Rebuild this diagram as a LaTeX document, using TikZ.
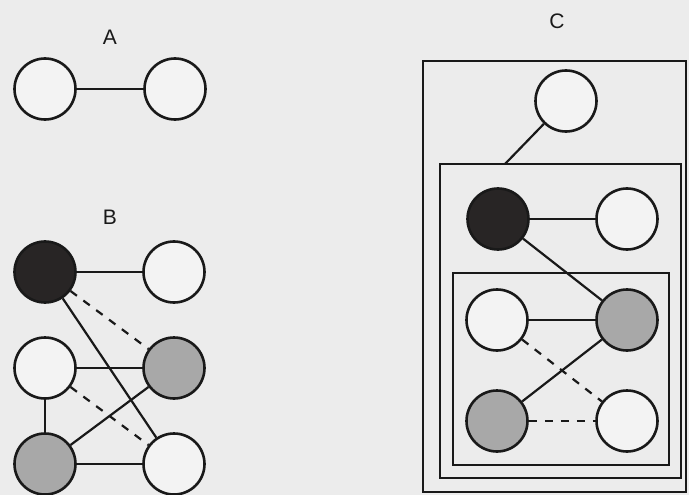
\documentclass[tikz,border=0pt]{standalone}
\usepackage{fontspec}
\setmainfont{Liberation Sans}
\definecolor{bgc}{RGB}{236,236,236}
\definecolor{wfill}{RGB}{243,243,243}
\definecolor{gfill}{RGB}{168,168,168}
\definecolor{bfill}{RGB}{40,37,37}
\definecolor{ink}{RGB}{25,25,25}
\begin{document}
\begin{tikzpicture}[x=1pt,y=-1pt,
  vertex/.style={circle, draw=ink, line width=2.6pt, minimum size=61pt, inner sep=0pt},
  wnode/.style={vertex, fill=wfill},
  gnode/.style={vertex, fill=gfill},
  bnode/.style={vertex, fill=bfill},
  edge/.style={draw=ink, line width=2.2pt},
  dedge/.style={edge, dash pattern=on 8pt off 8pt},
  frame/.style={rectangle, draw=ink, line width=2.6pt, inner sep=0pt},
  lbl/.style={font=\fontsize{21}{25}\selectfont, text=ink}]
\fill[bgc] (0,0) rectangle (689,495);
\useasboundingbox (0,0) rectangle (689,495);
% labels
\node[lbl] (la) at (110,37) {A};
\node[lbl] (lb) at (110,217) {B};
\node[lbl] (lc) at (557,21) {C};
% A
\node[wnode] (a1) at (45,89) {};
\node[wnode] (a2) at (175,89) {};
\draw[edge] (a1) -- (a2);
% B
\node[bnode] (b1) at (45,272) {};
\node[wnode] (b2) at (174,272) {};
\node[wnode] (b3) at (45,368) {};
\node[gnode] (b4) at (174,368) {};
\node[gnode] (b5) at (45,464) {};
\node[wnode] (b6) at (174,464) {};
\draw[edge] (b1) -- (b2);
\draw[edge] (b1) -- (b6);
\draw[dedge] (b1) -- (b4);
\draw[edge] (b3) -- (b4);
\draw[edge] (b3) -- (b5);
\draw[dedge] (b3) -- (b6);
\draw[edge] (b5) -- (b4);
\draw[edge] (b5) -- (b6);
% C frames
\node[frame, minimum width=263pt, minimum height=431pt] (fo) at (554.5,276.5) {};
\node[frame, minimum width=241pt, minimum height=314pt] (fm) at (560.5,321) {};
\node[frame, minimum width=216pt, minimum height=192pt] (fi) at (561,369) {};
% C nodes
\node[wnode] (c0) at (566,101) {};
\node[bnode] (c1) at (498,219) {};
\node[wnode] (c2) at (627,219) {};
\node[wnode] (c3) at (497,320) {};
\node[gnode] (c4) at (627,320) {};
\node[gnode] (c5) at (497,421) {};
\node[wnode] (c6) at (627,421) {};
\coordinate (cm) at (505,164);
\draw[edge] (c0) -- (cm);
\draw[edge] (c1) -- (c2);
\draw[edge] (c1) -- (c4);
\draw[edge] (c3) -- (c4);
\draw[edge] (c5) -- (c4);
\draw[dedge] (c3) -- (c6);
\draw[dedge] (c5) -- (c6);
\end{tikzpicture}
\end{document}
